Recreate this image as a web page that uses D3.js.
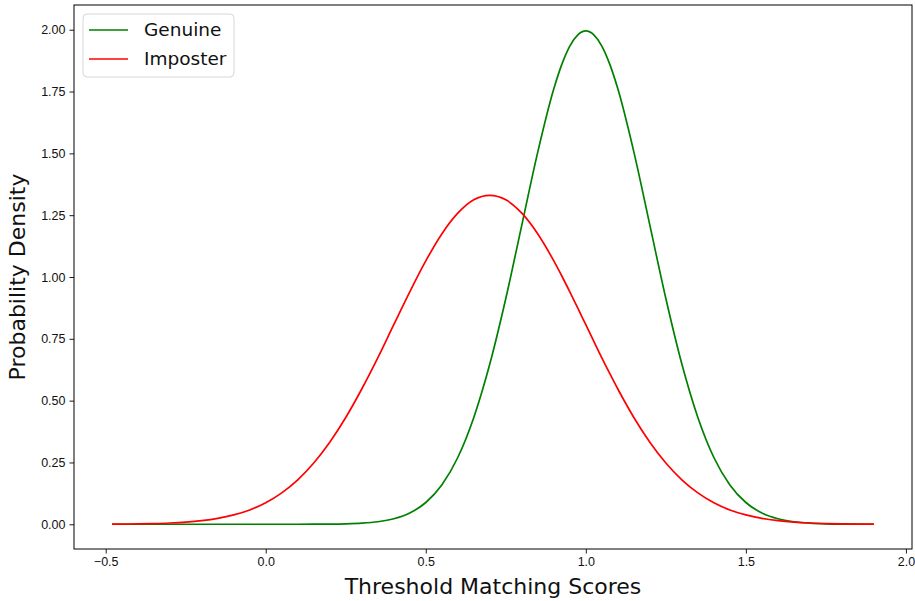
<!DOCTYPE html>
<html>
<head>
<meta charset="utf-8">
<script src="https://cdn.jsdelivr.net/npm/d3@7.9.0/dist/d3.min.js"></script>
<style>
  body { margin: 0; background: #fff; }
  svg { display: block; font-family: "DejaVu Sans", sans-serif; }
</style>
</head>
<body>
<svg id="chart" width="915" height="601"></svg>
<script>
// scores sampled along the x axis
const scores = [-0.48, -0.45, -0.40, -0.35, -0.30, -0.25, -0.20, -0.15, -0.10, -0.05,
  0.00, 0.05, 0.10, 0.15, 0.20, 0.25, 0.30, 0.35, 0.40, 0.45,
  0.50, 0.55, 0.60, 0.65, 0.70, 0.75, 0.80, 0.85, 0.90, 0.925, 0.95, 0.975,
  1.00, 1.025, 1.05, 1.075, 1.10, 1.15, 1.20, 1.25, 1.30, 1.35, 1.40, 1.45,
  1.50, 1.55, 1.60, 1.65, 1.70, 1.75, 1.80, 1.85, 1.90];

// density
const genuine = [0, 0, 0, 0, 0, 0, 0, 0, 0, 0,
  0, 0, 0.0001, 0.0002, 0.0007, 0.0018, 0.0044, 0.0101, 0.0222, 0.0455,
  0.088, 0.159, 0.270, 0.432, 0.648, 0.913, 1.210, 1.506, 1.761, 1.860, 1.934, 1.979,
  1.995, 1.979, 1.934, 1.860, 1.761, 1.506, 1.210, 0.913, 0.648, 0.432, 0.270, 0.159,
  0.088, 0.0455, 0.0222, 0.0101, 0.0044, 0.0018, 0.0007, 0.0002, 0.0001];

// density
const imposter = [0.0006, 0.0009, 0.0016, 0.0029, 0.0051, 0.0088, 0.0148, 0.024, 0.038, 0.058,
  0.087, 0.127, 0.180, 0.248, 0.332, 0.432, 0.547, 0.673, 0.807, 0.940,
  1.065, 1.174, 1.258, 1.312, 1.330, 1.312, 1.258, 1.174, 1.065, 1.004, 0.940, 0.874,
  0.807, 0.740, 0.673, 0.609, 0.547, 0.432, 0.332, 0.248, 0.180, 0.127, 0.087, 0.058,
  0.038, 0.024, 0.0148, 0.0088, 0.0051, 0.0029, 0.0016, 0.0009, 0.0005];

const xTicks = [-0.5, 0.0, 0.5, 1.0, 1.5, 2.0];
const yTicks = [0, 0.25, 0.5, 0.75, 1.0, 1.25, 1.5, 1.75, 2.0];

const series = [
  { name: 'Genuine', values: genuine, color: '#008000' },
  { name: 'Imposter', values: imposter, color: '#ff0000' }
];

const svg = d3.select('#chart');
const margin = { left: 74, right: 3, top: 5, bottom: 52 };
const width = 915 - margin.left - margin.right;
const height = 601 - margin.top - margin.bottom;

// matplotlib style 5% padding around the data
const xPad = (scores[scores.length - 1] - scores[0]) * 0.05;
const x = d3.scaleLinear()
  .domain([scores[0] - xPad, scores[scores.length - 1] + xPad])
  .range([0, width]);
const y = d3.scaleLinear()
  .domain([-0.1, 2.1])
  .range([height, 0]);

const g = svg.append('g').attr('transform', `translate(${margin.left},${margin.top})`);

const minus = (s) => s.replace('-', '\u2212');

// axes
const xAxis = g.append('g')
  .attr('transform', `translate(0,${height})`)
  .call(d3.axisBottom(x).tickValues(xTicks).tickSize(4.5).tickPadding(4)
    .tickFormat((d) => minus(d3.format('.1f')(d))));
const yAxis = g.append('g')
  .call(d3.axisLeft(y).tickValues(yTicks).tickSize(4.5).tickPadding(4)
    .tickFormat((d) => d3.format('.2f')(d)));

[xAxis, yAxis].forEach((a) => {
  a.select('.domain').remove();
  a.selectAll('line').attr('stroke', '#000').attr('stroke-width', 0.9);
  a.selectAll('text').attr('fill', '#111').style('font-size', '12.5px');
});

// frame
g.append('rect')
  .attr('width', width).attr('height', height)
  .attr('fill', 'none').attr('stroke', '#000').attr('stroke-width', 1);

// curves
const line = d3.line()
  .x((d, i) => x(scores[i]))
  .y((d) => y(d))
  .curve(d3.curveMonotoneX);

series.forEach((s) => {
  g.append('path')
    .datum(s.values)
    .attr('fill', 'none')
    .attr('stroke', s.color)
    .attr('stroke-width', 1.7)
    .attr('d', line);
});

// legend
const legend = g.append('g').attr('transform', 'translate(9,9)');
legend.append('rect')
  .attr('width', 151).attr('height', 63).attr('rx', 4)
  .attr('fill', '#fff').attr('fill-opacity', 0.8)
  .attr('stroke', '#d6d6d6').attr('stroke-width', 1);
series.forEach((s, i) => {
  const row = legend.append('g').attr('transform', `translate(0,${16 + i * 29})`);
  row.append('line')
    .attr('x1', 6).attr('x2', 45)
    .attr('stroke', s.color).attr('stroke-width', 1.7);
  row.append('text')
    .attr('x', 61).attr('dy', '0.35em')
    .style('font-size', '18.5px').attr('fill', '#111')
    .text(s.name);
});

// axis titles
svg.append('text')
  .attr('x', margin.left + width / 2).attr('y', 594)
  .attr('text-anchor', 'middle')
  .style('font-size', '22px').attr('fill', '#111')
  .text('Threshold Matching Scores');
svg.append('text')
  .attr('transform', `translate(25,${margin.top + height / 2}) rotate(-90)`)
  .attr('text-anchor', 'middle')
  .style('font-size', '22px').attr('fill', '#111')
  .text('Probability Density');
</script>
</body>
</html>
